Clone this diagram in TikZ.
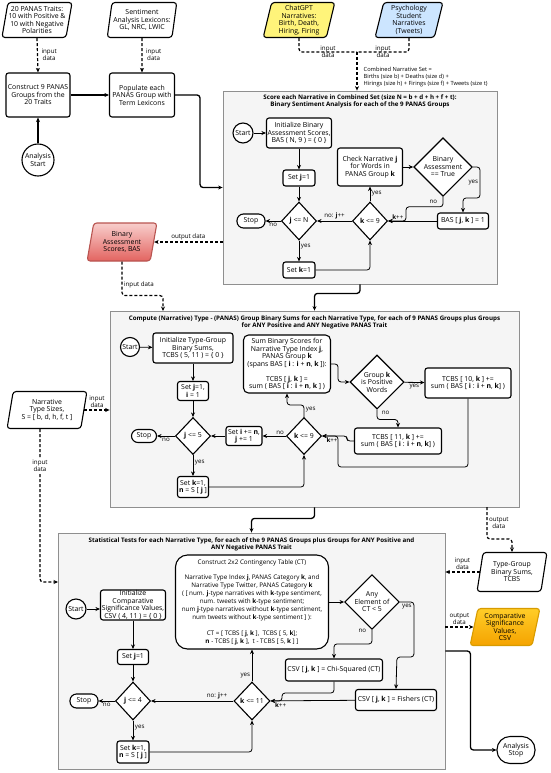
\documentclass[tikz,border=0pt]{standalone}
\usepackage{fontspec}
\setmainfont{Open Sans}
\usetikzlibrary{arrows.meta,shapes.geometric}
\newcommand\nodefs{\fontsize{6.9}{7.5}\selectfont}
\newcommand\tagfs{\fontsize{6.2}{7}\selectfont}
\newcommand\notefs{\fontsize{5.7}{6.6}\selectfont}
\newcommand\ctfs{\fontsize{6.3}{7.9}\selectfont}
\definecolor{panelfill}{HTML}{F5F5F5}
\definecolor{paneldraw}{HTML}{8F8F8F}
\definecolor{gptyellow}{HTML}{FFF47A}
\definecolor{tweetblue}{HTML}{CCE5FF}
\definecolor{bastop}{HTML}{F8CECC}
\definecolor{basbot}{HTML}{E36460}
\definecolor{basline}{HTML}{B85450}
\definecolor{csvtop}{HTML}{FFCD28}
\definecolor{csvbot}{HTML}{F5A300}
\definecolor{csvline}{HTML}{D79B00}
\begin{document}
\begin{tikzpicture}[x=1pt,y=-1pt]
  \tikzset{
    every node/.style={font=\nodefs, align=center, inner sep=0.5pt},
    sz/.style 2 args={minimum width=#1pt, minimum height=#2pt},
    procbox/.style={draw, line width=1.1pt, rounded corners=2.5pt, fill=white},
    decide/.style={diamond, draw, line width=1.1pt, fill=white, inner sep=0pt},
    termcap/.style={draw, line width=1.1pt, rounded corners=6.5pt, fill=white},
    startdot/.style={circle, draw, line width=1.1pt, fill=white, inner sep=0pt},
    dataio/.style={trapezium, trapezium left angle=78, trapezium right angle=102,
      trapezium stretches=true, draw, line width=1.1pt, rounded corners=3pt, fill=white},
    panel/.style={draw=paneldraw, line width=0.8pt, fill=panelfill},
    paneltitle/.style={font=\fontsize{6.2}{7.2}\selectfont\bfseries},
    tag/.style={font=\tagfs, inner sep=1.5pt},
    flow/.style={-{Stealth[length=4.5pt,width=4pt]}, line width=0.8pt, rounded corners=3pt},
    mainflow/.style={flow, line width=1.3pt},
    dataline/.style={line width=1.2pt, dash pattern=on 3pt off 2pt, rounded corners=3pt},
    dataflow/.style={dataline, -{Stealth[length=4.5pt,width=4pt]}},
  }
  \useasboundingbox (0,0) rectangle (550,773);

  % panels
  \node[panel, sz={274}{193}] (scorepanel) at (360,187.5) {};
  \node[panel, sz={409}{196}] (typepanel) at (314.5,409) {};
  \node[panel, sz={387}{236}] (statpanel) at (251.5,651) {};
  \node[paneltitle] (title1) at (360,101.5) {Score each Narrative in Combined Set (size N = b + d + h + f + t):\\Binary Sentiment Analysis for each of the 9 PANAS Groups};
  \node[paneltitle] (title2) at (314.5,322) {Compute (Narrative) Type - (PANAS) Group Binary Sums for each Narrative Type, for each of 9 PANAS Groups plus Groups\\for ANY Positive and ANY Negative PANAS Trait};
  \node[paneltitle] (title3) at (251.5,544) {Statistical Tests for each Narrative Type, for each of the 9 PANAS Groups plus Groups for ANY Positive and\\ANY Negative PANAS Trait};

  % inputs and preparation
  \node[dataio, sz={63}{35}] (traits) at (37,20) {20 PANAS Traits:\\10 with Positive \&\\10 with Negative\\Polarities};
  \node[dataio, sz={70}{35}] (lexicons) at (142,20) {Sentiment\\Analysis Lexicons:\\GL, NRC, LWIC};
  \node[dataio, sz={72}{35}, fill=gptyellow] (chatgpt) at (299,20) {ChatGPT\\Narratives:\\Birth, Death,\\Hiring, Firing};
  \node[dataio, sz={68}{35}, fill=tweetblue] (tweets) at (409,20) {Psychology\\Student\\Narratives\\(Tweets)};
  \node[procbox, sz={64}{44}] (construct) at (38,95) {Construct 9 PANAS\\Groups from the\\20 Traits};
  \node[procbox, sz={65}{44}] (populate) at (142,95) {Populate each\\PANAS Group with\\Term Lexicons};
  \node[startdot, minimum size=32pt] (astart) at (38,160) {Analysis\\Start};
  \coordinate (merge) at (357,52);
  \node[tag, font=\notefs, anchor=west, align=left] (combined) at (362,77) {Combined Narrative Set =\\Births (size b) + Deaths (size d) +\\Hirings (size h) + Firings (size f) + Tweets (size t)};

  % binary sentiment analysis
  \node[startdot, minimum size=20pt] (start1) at (243,133) {Start};
  \node[procbox, sz={65}{30}] (initbas) at (299,133) {Initialize Binary\\Assessment Scores,\\BAS ( N, 9 ) = \{ 0 \}};
  \node[procbox, sz={32}{16}] (setj1) at (299,178) {Set \textbf{j}=1};
  \node[decide, sz={35}{38}] (dj1) at (299,221) {\textbf{j} <= N};
  \node[termcap, sz={28}{14}] (stop1) at (251,221) {Stop};
  \node[procbox, sz={32}{16}] (setk1) at (299,270) {Set \textbf{k}=1};
  \node[decide, sz={35}{38}] (dk1) at (370,221) {\textbf{k} <= 9};
  \node[procbox, sz={65}{38}] (check) at (370,167) {Check Narrative \textbf{j}\\for Words in\\PANAS Group \textbf{k}};
  \node[decide, sz={54}{55}] (dbin) at (443,167) {Binary\\Assessment\\== True};
  \node[procbox, sz={51}{16}] (basset) at (463,221) {BAS [ \textbf{j}, \textbf{k} ] = 1};
  \node[dataio, sz={70}{38}, top color=bastop, bottom color=basbot, draw=basline] (bas) at (122,242) {Binary\\Assessment\\Scores, BAS};

  % type-group binary sums
  \node[startdot, minimum size=19pt] (start2) at (130,347) {Start};
  \node[procbox, sz={80}{30}] (inittc) at (193,348) {Initialize Type-Group\\Binary Sums,\\TCBS ( 5, 11 ) = \{ 0 \}};
  \node[procbox, sz={31}{19}] (setji) at (193,391) {Set \textbf{j}=1,\\\textbf{i} = 1};
  \node[decide, sz={35}{37}] (dj2) at (193,436) {\textbf{j} <= 5};
  \node[termcap, sz={25}{13}] (stop2) at (144,436) {Stop};
  \node[procbox, sz={31}{21}] (setkn2) at (193,487) {Set \textbf{k}=1,\\\textbf{n} = S [ \textbf{j} ]};
  \node[decide, sz={35}{37}] (dk2) at (304,436) {\textbf{k} <= 9};
  \node[procbox, sz={36}{19}] (setin) at (244,436) {Set \textbf{i} += \textbf{n},\\\textbf{j} += 1};
  \node[procbox, rounded corners=5pt, sz={87}{58}] (sumbox) at (287,364) {Sum Binary Scores for\\Narrative Type Index \textbf{j},\\PANAS Group \textbf{k}\\(spans BAS [ \textbf{i} : \textbf{i} + \textbf{n}, \textbf{k} ]):\\[7.5pt]TCBS [ \textbf{j}, \textbf{k} ] =\\sum ( BAS [ \textbf{i} : \textbf{i} + \textbf{n}, \textbf{k} ] )};
  \node[decide, sz={54}{54}] (dpos) at (377,382) {Group \textbf{k}\\is Positive\\Words};
  \node[procbox, sz={86}{30}] (tc10) at (468,383) {TCBS [ 10, \textbf{k} ] +=\\sum ( BAS [ \textbf{i} : \textbf{i} + \textbf{n}, \textbf{k}] )};
  \node[procbox, sz={87}{26}] (tc11) at (398,441) {TCBS [ 11, \textbf{k} ] +=\\sum ( BAS [ \textbf{i} : \textbf{i} + \textbf{n}, \textbf{k}] )};
  \node[dataio, sz={80}{37}] (sizes) at (47,410) {Narrative\\Type Sizes,\\S = [ b, d, h, f, t ]};
  \node[dataio, sz={70}{39}] (tcbs) at (512,572) {Type-Group\\Binary Sums,\\TCBS};
  \coordinate (out2) at (487,507);

  % statistical tests
  \node[startdot, minimum size=20pt] (start3) at (76,609) {Start};
  \node[procbox, sz={65}{30}] (initcsv) at (133,605) {Initialize\\Comparative\\Significance Values,\\CSV ( 4, 11 ) = \{ 0 \}};
  \node[procbox, sz={31}{15}] (setj3) at (133,657) {Set \textbf{j}=1};
  \node[decide, sz={35}{38}] (dj3) at (133,701) {\textbf{j} <= 4};
  \node[termcap, sz={28}{14}] (stop3) at (84,701) {Stop};
  \node[procbox, sz={32}{22}] (setkn3) at (133,752) {Set \textbf{k}=1,\\\textbf{n} = S [ \textbf{j} ]};
  \node[decide, sz={36}{38}] (dk3) at (252,701) {\textbf{k} <= 11};
  \node[procbox, rounded corners=12pt, sz={153}{94}, font=\ctfs] (ctbox) at (252,602) {Construct 2x2 Contingency Table (CT)\\[7.9pt]Narrative Type Index \textbf{j}, PANAS Category \textbf{k}, and\\Narrative Type Twitter, PANAS Category \textbf{k}\\( [ num. \textbf{j}-type narratives with \textbf{k}-type sentiment,\\num. tweets with \textbf{k}-type sentiment;\\num \textbf{j}-type narratives without \textbf{k}-type sentiment,\\num tweets without \textbf{k}-type sentiment ] ):\\[7.9pt]CT = [ TCBS [ \textbf{j}, \textbf{k} ],\ \ TCBS [ 5, \textbf{k}];\\\textbf{n} - TCBS [ \textbf{j}, \textbf{k} ],\ \ t - TCBS [ 5, \textbf{k} ] ]};
  \node[decide, sz={54}{54}] (dany) at (372,602) {Any\\Element of\\CT < 5};
  \node[procbox, sz={97}{22}] (chi) at (334,670) {CSV [ \textbf{j}, \textbf{k} ] = Chi-Squared (CT)};
  \node[procbox, sz={81}{21}] (fish) at (396,700) {CSV [ \textbf{j}, \textbf{k} ] = Fishers (CT)};
  \node[dataio, sz={70}{37}, top color=csvtop, bottom color=csvbot, draw=csvline] (csv) at (505,627) {Comparative\\Significance\\Values,\\CSV};
  \node[termcap, rounded corners=13pt, sz={38}{27}] (astop) at (516,750) {Analysis\\Stop};

  % connectors: preparation
  \draw[dataflow] (traits.south) -- node[tag, right, xshift=2pt] {input\\data} (construct.north);
  \draw[dataflow] (lexicons.south) -- node[tag, right, xshift=2pt] {input\\data} (populate.north);
  \draw[mainflow] (astart) -- (construct);
  \draw[mainflow] (construct) -- (populate);
  \draw[mainflow] (populate.east) -- ++(25,0) |- (scorepanel.west);
  \draw[dataline] (chatgpt.south) |- node[tag, pos=.75] {input\\data} (merge);
  \draw[dataline] (tweets.south) |- node[tag, pos=.75] {input\\data} (merge);
  \draw[dataflow] (merge) -- (merge |- scorepanel.north);

  % connectors: binary sentiment analysis
  \draw[flow] (start1) -- (initbas);
  \draw[flow] (initbas) -- (setj1);
  \draw[flow] (setj1) -- (dj1);
  \draw[flow] (dj1) -- node[tag, below] {no} (stop1);
  \draw[flow] (dj1) -- node[tag, right, pos=.3] {yes} (setk1);
  \draw[flow] (setk1) -| (dk1);
  \draw[flow] (dk1) -- node[tag, above] {no: \textbf{j}++} (dj1);
  \draw[flow] (dk1) -- node[tag, right] {yes} (check);
  \draw[flow] (check) -- (dbin);
  \draw[flow] (dbin.east) -| node[tag, pos=.75, left] {yes} (480,198) -| (basset.north);
  \draw[flow] (basset) -- node[tag, above, pos=.8] {\textbf{k}++} (dk1);
  \draw[flow] (dbin.south) -- node[tag, left, xshift=-4pt] {no} ++(0,10) -| (406,221) -- (dk1.east);
  \draw[dataflow] (scorepanel.west |- bas.east) -- node[tag, above] {output data} (bas.east);
  \draw[dataflow] (bas.south) -- node[tag, right, pos=.7] {input data} ++(0,34) -| (163,311);
  \draw[mainflow] (scorepanel.south) -- ++(0,9) -| (typepanel.north);

  % connectors: type-group binary sums
  \draw[flow] (start2) -- (inittc);
  \draw[flow] (inittc) -- (setji);
  \draw[flow] (setji) -- (dj2);
  \draw[flow] (dj2) -- node[tag, below] {no} (stop2);
  \draw[flow] (dj2) -- node[tag, right, pos=.35] {yes} (setkn2);
  \draw[flow] (setkn2) -| (dk2);
  \draw[flow] (dk2) -- node[tag, above, pos=.25] {no} (setin);
  \draw[flow] (setin) -- (dj2);
  \draw[flow] (dk2.north) -- node[tag, right, pos=.6] {yes} ++(0,-12) -| (sumbox.south);
  \draw[flow] (sumbox.east) -- ++(7,0) |- (dpos.west);
  \draw[flow] (dpos) -- node[tag, below] {yes} (tc10);
  \draw[flow] (dpos.south) -- node[tag, right, pos=.3, xshift=3pt] {no} ++(0,10) -| (tc11.north);
  \draw[flow] (tc11.west) -- ++(-7,0) |- node[tag, below, pos=.8] {\textbf{k}++} (dk2.east);
  \draw[flow] (tc10.south) |- (338,467) |- (dk2.east);
  \draw[dataflow] (sizes.east) -- node[tag, above] {input\\data} (sizes.east -| typepanel.west);
  \draw[dataflow] ([xshift=-7pt]sizes.south) |- node[tag, fill=white, pos=.12] {input\\data} (58,582);
  \draw[dataflow] (out2) -- node[tag, right] {output\\data} ++(0,32) -| (tcbs.north);
  \draw[dataflow] (tcbs.west) -- node[tag, above] {input\\data} (tcbs.west -| statpanel.east);
  \draw[mainflow] (typepanel.south) -- ++(0,11) -| (statpanel.north);

  % connectors: statistical tests
  \draw[flow] (start3) -- (start3 -| initcsv.west);
  \draw[flow] (initcsv) -- (setj3);
  \draw[flow] (setj3) -- (dj3);
  \draw[flow] (dj3) -- node[tag, below] {no} (stop3);
  \draw[flow] (dj3) -- node[tag, right, pos=.35] {yes} (setkn3);
  \draw[flow] (setkn3) -| (dk3);
  \draw[flow] (dk3) -- node[tag, above, pos=.2] {no: \textbf{j}++} (dj3);
  \draw[flow] (dk3) -- node[tag, left, pos=.2] {yes} (ctbox);
  \draw[flow] (ctbox) -- (dany);
  \draw[flow] (dany.east) -- node[tag, below] {yes} ++(14,0) |- ++(-17,55) -- (fish.north);
  \draw[flow] (dany.south) -- node[tag, left, pos=.1, xshift=-4pt] {no} ++(0,14) -| (chi.north);
  \draw[flow] (fish) -- node[tag, below, pos=.88] {\textbf{k}++} (dk3);
  \draw[flow] (chi.south) |- (282,693) |- (dk3.east);
  \draw[dataflow] (statpanel.east |- csv.west) -- node[tag, above] {output\\data} (csv.west);
  \draw[mainflow] (statpanel.east) -- ++(25,0) |- (astop.west);
\end{tikzpicture}
\end{document}
